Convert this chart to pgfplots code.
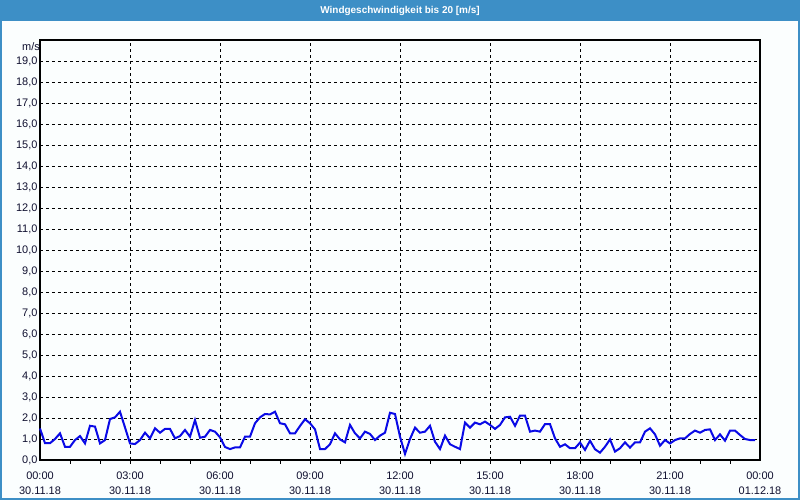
\documentclass[border=0pt]{standalone}
\usepackage{pgfplots}
\pgfplotsset{compat=1.18}
\usepackage{pgfplotstable}
\usepackage{fontspec}
\setmainfont{Liberation Sans}
\definecolor{barblue}{HTML}{3D8FC6}
\definecolor{bgc}{HTML}{FBFEFE}
\definecolor{txt}{HTML}{101030}
\definecolor{linec}{HTML}{0A0AE6}
\pgfplotstableread{
k v
0 1.5
1 0.8
2 0.8
3 1.0
4 1.27
5 0.63
6 0.63
7 0.95
8 1.14
9 0.79
10 1.63
11 1.59
12 0.79
13 0.95
14 1.95
15 2.03
16 2.3
17 1.55
18 0.79
19 0.76
20 0.95
21 1.3
22 1.03
23 1.51
24 1.3
25 1.48
26 1.48
27 1.03
28 1.14
29 1.43
30 1.11
31 1.9
32 1.06
33 1.11
34 1.43
35 1.35
36 1.08
37 0.62
38 0.52
39 0.6
40 0.6
41 1.11
42 1.11
43 1.75
44 2.03
45 2.19
46 2.17
47 2.3
48 1.75
49 1.7
50 1.27
51 1.27
52 1.62
53 1.94
54 1.75
55 1.46
56 0.52
57 0.52
58 0.75
59 1.27
60 0.98
61 0.84
62 1.67
63 1.27
64 1.03
65 1.35
66 1.24
67 0.95
68 1.16
69 1.3
70 2.25
71 2.19
72 1.11
73 0.29
74 1.0
75 1.54
76 1.3
77 1.35
78 1.63
79 0.87
80 0.52
81 1.16
82 0.75
83 0.63
84 0.52
85 1.78
86 1.54
87 1.78
88 1.7
89 1.83
90 1.67
91 1.48
92 1.67
93 2.03
94 2.06
95 1.63
96 2.11
97 2.11
98 1.35
99 1.4
100 1.35
101 1.71
102 1.71
103 1.03
104 0.63
105 0.75
106 0.56
107 0.56
108 0.83
109 0.48
110 0.92
111 0.51
112 0.35
113 0.63
114 0.98
115 0.4
116 0.56
117 0.84
118 0.59
119 0.84
120 0.84
121 1.35
122 1.51
123 1.22
124 0.68
125 0.95
126 0.79
127 0.95
128 1.03
129 1.03
130 1.24
131 1.4
132 1.3
133 1.43
134 1.46
135 0.95
136 1.22
137 0.92
138 1.4
139 1.4
140 1.19
141 1.0
142 0.95
143 0.95
}\windtable
\begin{document}
\begin{tikzpicture}[x=1bp,y=1bp]
\useasboundingbox (-40,-40) rectangle (760,460);
\fill[bgc] (-40,-40) rectangle (760,460);
\fill[barblue] (-40,439) rectangle (760,460);
\draw[barblue,line width=2bp] (-39,-39) rectangle (759,440);
\node[text=white,font=\fontsize{10}{11}\selectfont\bfseries] at (360,449.5) {Windgeschwindigkeit bis 20 [m/s]};
\begin{axis}[
  at={(0,0)}, anchor=south west,
  scale only axis, width=720bp, height=420bp,
  xmin=0, xmax=144, ymin=0, ymax=20,
  axis line style={black,line width=1.2bp},
  xtick={0,18,...,144},
  xticklabels={{00:00\\30.11.18},{03:00\\30.11.18},{06:00\\30.11.18},{09:00\\30.11.18},{12:00\\30.11.18},{15:00\\30.11.18},{18:00\\30.11.18},{21:00\\30.11.18},{00:00\\01.12.18}},
  minor xtick={6,12,...,138},
  xtick pos=bottom, ytick pos=left,
  tick align=outside,
  major tick length=0pt,
  minor tick length=4bp,
  minor tick style={black,line width=0.8bp},
  xticklabel style={align=center,font=\fontsize{11}{15}\selectfont,text=txt,yshift=-8bp},
  ytick={0,1,...,19},
  yticklabels={{0,0},{1,0},{2,0},{3,0},{4,0},{5,0},{6,0},{7,0},{8,0},{9,0},{10,0},{11,0},{12,0},{13,0},{14,0},{15,0},{16,0},{17,0},{18,0},{19,0}},
  yticklabel style={font=\fontsize{11}{12}\selectfont,text=txt,xshift=1bp},
  grid=major,
  major grid style={black,line width=0.8bp,dash pattern=on 3bp off 3bp},
  clip=false,
]
\addplot[linec,line width=2bp,mark=none] table[x=k,y=v] {\windtable};
\node[anchor=east,font=\fontsize{11}{12}\selectfont,text=txt,inner sep=0pt] at (axis cs:0,19.7) {m/s\hspace{3.5bp}};
\end{axis}
\end{tikzpicture}
\end{document}
